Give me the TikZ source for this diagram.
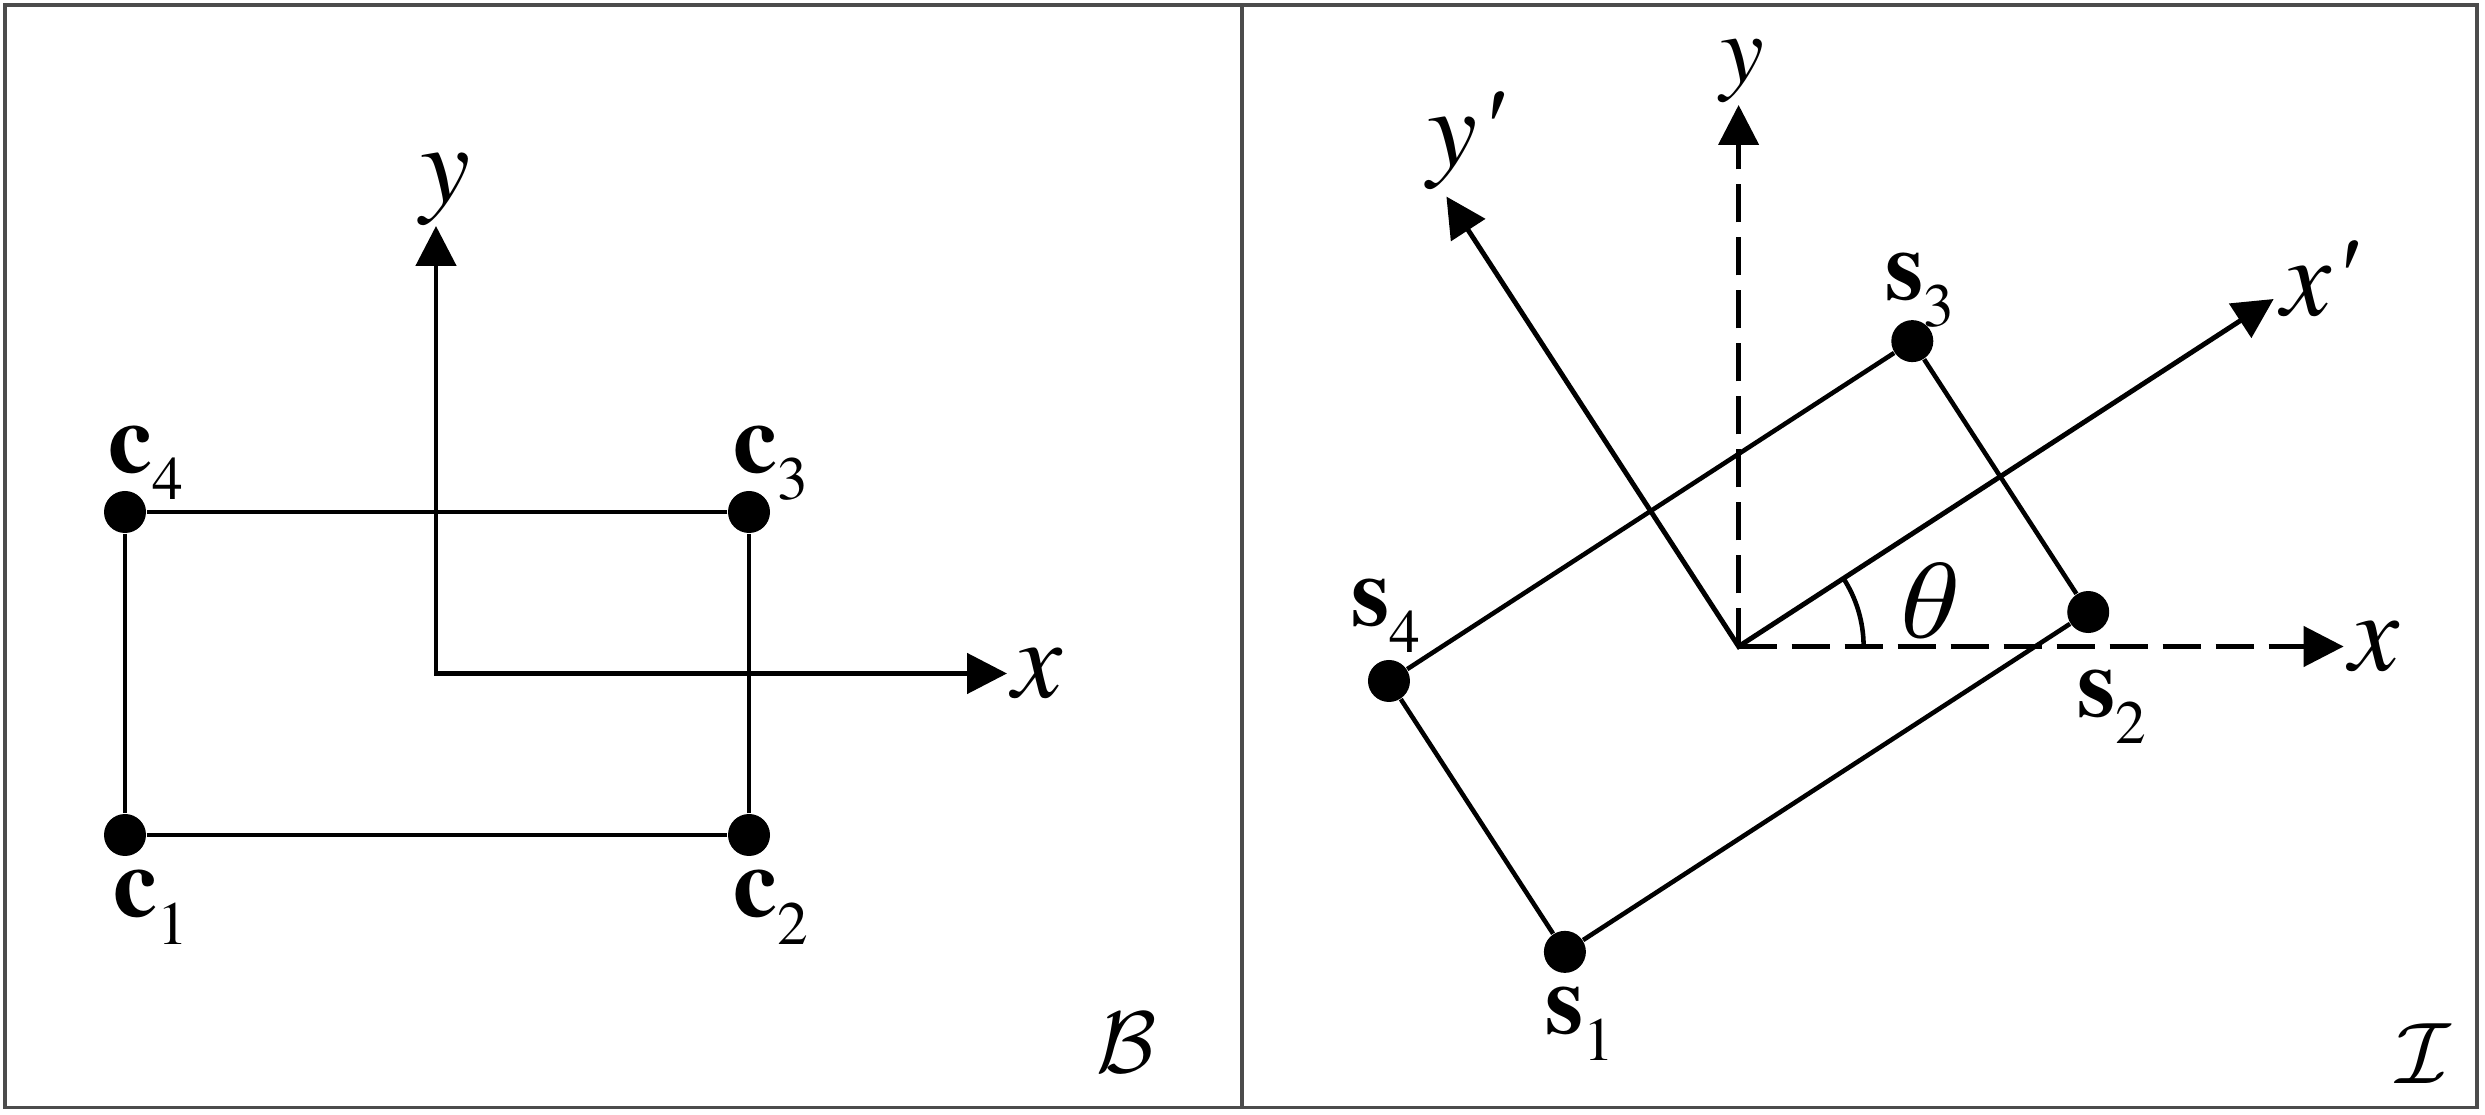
\documentclass[tikz,border=0pt]{standalone}
\usepackage{fontspec}
\setmainfont{texgyretermes}[
  Extension=.otf,
  UprightFont=*-regular,
  BoldFont=*-bold,
  ItalicFont=*-italic,
  BoldItalicFont=*-bolditalic]
\usetikzlibrary{arrows.meta,calc}

\newcommand{\vlab}[2]{\fontsize{28}{30}\selectfont\textbf{#1}\raisebox{-0.27cm}{\fontsize{17.5}{18}\selectfont #2}}
\newcommand{\alab}[1]{\fontsize{32}{34}\selectfont\itshape #1}

\begin{document}
\begin{tikzpicture}[
    dot/.style={circle, fill, inner sep=0pt, minimum size=4.2mm},
    side/.style={line width=1.3pt},
    axis/.style={line width=1.4pt},
    guide/.style={line width=1.3pt, dash pattern=on 3.8mm off 1.5mm},
    tip/.style={-{Triangle[length=4mm,width=4mm]}},
    lbl/.style={inner sep=0pt, anchor=base west},
    alb/.style={inner sep=0pt},
  ]
  \useasboundingbox (0,0) rectangle (24.85,11.14);

  % frames
  \draw[gray!60!black, line width=0.9pt] (0.05,0.065) rectangle (24.77,11.09);
  \draw[gray!60!black, line width=0.9pt] (12.42,0.065) -- (12.42,11.09);

  % --- body frame B
  \coordinate (ob) at (4.36,4.405);
  \node[dot] (c1) at ($(ob)+(-3.11,-1.615)$) {};
  \node[dot] (c2) at ($(ob)+(3.13,-1.615)$) {};
  \node[dot] (c3) at ($(ob)+(3.13,1.615)$) {};
  \node[dot] (c4) at ($(ob)+(-3.11,1.615)$) {};
  \draw[side] (c1) -- (c2) -- (c3) -- (c4) -- (c1);

  \coordinate (bx) at ($(ob)+(5.71,0)$);
  \coordinate (by) at ($(ob)+(0,4.475)$);
  \draw[axis, {Triangle[length=4mm,width=4mm]}-{Triangle[length=4mm,width=4mm]}] (by) -- (ob) -- (bx);

  \node[alb, anchor=west] at ($(bx)+(0.05,0)$) {\alab{x}};
  \node[alb, anchor=south] at ($(by)+(0.09,0)$) {\alab{y}};

  \node[lbl] at ($(c1)+(-0.12,-0.82)$) {\vlab{c}{1}};
  \node[lbl] at ($(c2)+(-0.16,-0.82)$) {\vlab{c}{2}};
  \node[lbl] at ($(c3)+(-0.16,0.39)$) {\vlab{c}{3}};
  \node[lbl] at ($(c4)+(-0.17,0.39)$) {\vlab{c}{4}};

  \node[alb] at (11.27,0.71) {\fontsize{32}{34}\selectfont$\mathcal{B}$};

  % --- image frame I
  \coordinate (oi) at (17.386,4.675);
  \coordinate (ix) at ($(oi)+(6.05,0)$);
  \coordinate (iy) at ($(oi)+(0,5.415)$);
  \draw[guide, tip] (oi) -- (ix);
  \draw[guide, tip] (oi) -- (iy);

  \node[dot] (s1) at ($(oi)+(213:3.12)+(303:1.615)$) {};
  \node[dot] (s2) at ($(oi)+(33:3.12)+(303:1.615)$) {};
  \node[dot] (s3) at ($(oi)+(33:3.12)+(123:1.615)$) {};
  \node[dot] (s4) at ($(oi)+(213:3.12)+(123:1.615)$) {};
  \draw[side] (s1) -- (s2) -- (s3) -- (s4) -- (s1);

  \coordinate (ixp) at ($(oi)+(33:6.38)$);
  \coordinate (iyp) at ($(oi)+(123:5.365)$);
  \draw[axis, {Triangle[length=4mm,width=4mm]}-{Triangle[length=4mm,width=4mm]}] (iyp) -- (oi) -- (ixp);

  \draw[side] ($(oi)+(1.25,0)$) arc (0:33:1.25);
  \node[alb] at (19.21,5.13) {\alab{θ}};

  \node[alb, anchor=west] at ($(ix)+(0.05,0)$) {\alab{x}};
  \node[alb, anchor=south] at ($(iy)+(0.04,0.02)$) {\fontsize{28}{30}\selectfont\itshape y};
  \node[alb, anchor=base west] at ($(ixp)+(0.07,-0.16)$) {\alab{x\textquotesingle}};
  \node[alb, anchor=base] at ($(iyp)+(0.18,0.30)$) {\alab{y\textquotesingle}};

  \node[lbl] at ($(s1)+(-0.2,-0.82)$) {\vlab{s}{1}};
  \node[lbl] at ($(s2)+(-0.115,-1.045)$) {\vlab{s}{2}};
  \node[lbl] at ($(s3)+(-0.28,0.42)$) {\vlab{s}{3}};
  \node[lbl] at ($(s4)+(-0.38,0.555)$) {\vlab{s}{4}};

  \node[alb] at (24.24,0.6) {\fontsize{32}{34}\selectfont$\mathcal{I}$};
\end{tikzpicture}
\end{document}
